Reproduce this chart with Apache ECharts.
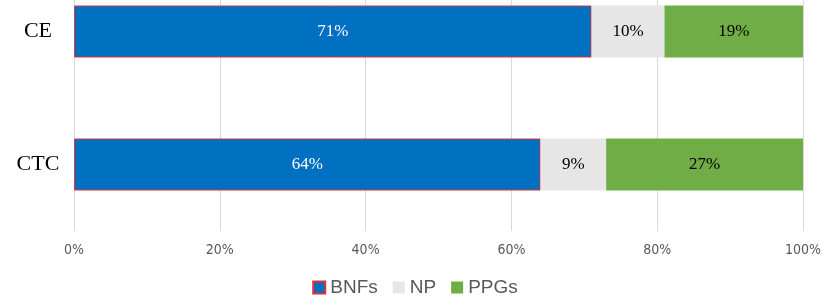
<!DOCTYPE html>
<html><head><meta charset="utf-8">
<script src="https://cdn.jsdelivr.net/npm/echarts@6/dist/echarts.min.js"></script>
<style>html,body{margin:0;padding:0;background:#fff}#c{width:830px;height:304px}</style>
</head><body><div id="c"></div>
<script>
const categories = ['CE', 'CTC'];
const seriesNames = ['BNFs', 'NP', 'PPGs'];
const bnfs = [71, 64];
const np = [10, 9];
const ppgs = [19, 27];
const xTicks = [0, 20, 40, 60, 80, 100];

const chart = echarts.init(document.getElementById('c'));
const labelBase = {show: true, position: 'inside', fontFamily: 'Liberation Serif', fontSize: 17, formatter: p => p.value + '%'};
chart.setOption({
  animation: false,
  grid: [
    {left: 74, right: 27, top: 0, height: 231},
    {left: 74, right: 27, top: 31.5, height: 133}
  ],
  legend: {
    top: 273, left: 'center', itemWidth: 12, itemHeight: 12, itemGap: 15,
    textStyle: {fontSize: 19, color: '#595959', fontFamily: 'Liberation Sans'},
    data: seriesNames.map(n => ({name: n, icon: 'rect'}))
  },
  xAxis: [
    {
      gridIndex: 0, type: 'value', min: xTicks[0], max: xTicks[xTicks.length - 1], interval: 20,
      axisLine: {show: false}, axisTick: {show: false},
      splitLine: {lineStyle: {color: '#d9d9d9', width: 1}},
      axisLabel: {formatter: '{value}%', color: '#595959', fontSize: 14,
        fontFamily: "'DejaVu Sans Condensed', 'Liberation Sans'", margin: 12}
    },
    {
      gridIndex: 1, type: 'value', min: xTicks[0], max: xTicks[xTicks.length - 1], show: false,
      splitLine: {show: false}
    }
  ],
  yAxis: [
    {gridIndex: 0, type: 'category', data: categories, show: false},
    {
      gridIndex: 1, type: 'category', data: categories, inverse: true, boundaryGap: false,
      axisLine: {show: false}, axisTick: {show: false}, splitLine: {show: false},
      axisLabel: {color: '#000', fontSize: 22, fontFamily: 'Liberation Serif', margin: 36, align: 'center'}
    }
  ],
  series: [
    {name: seriesNames[0], type: 'bar', stack: 's', data: bnfs, barWidth: 52, xAxisIndex: 1, yAxisIndex: 1,
     itemStyle: {color: '#0070C0', borderColor: '#E0303A', borderWidth: 1},
     label: Object.assign({}, labelBase, {color: '#fff'})},
    {name: seriesNames[1], type: 'bar', stack: 's', data: np, barWidth: 52, xAxisIndex: 1, yAxisIndex: 1,
     itemStyle: {color: '#E7E6E6'},
     label: Object.assign({}, labelBase, {color: '#000'})},
    {name: seriesNames[2], type: 'bar', stack: 's', data: ppgs, barWidth: 52, xAxisIndex: 1, yAxisIndex: 1,
     itemStyle: {color: '#70AD47'},
     label: Object.assign({}, labelBase, {color: '#000'})}
  ]
});
</script></body></html>
